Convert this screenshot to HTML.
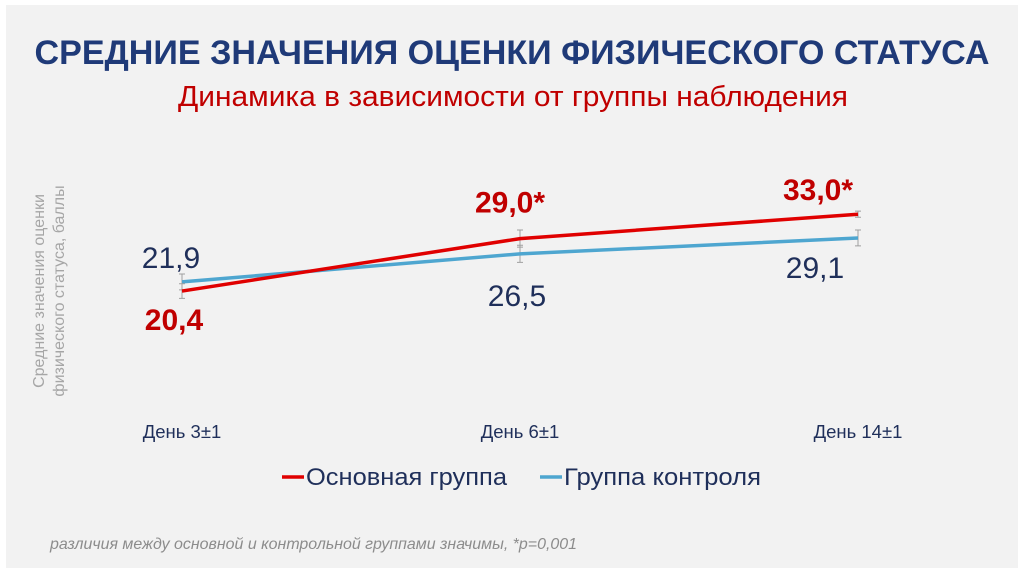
<!DOCTYPE html>
<html><head><meta charset="utf-8"><style>
body{margin:0;width:1024px;height:574px;background:#fff;overflow:hidden;font-family:"Liberation Sans",sans-serif}
#card{position:absolute;left:6px;top:5px;width:1012px;height:563px;background:#f2f2f2}
</style></head><body>
<div id="card"></div>
<svg id="c" width="1024" height="574" style="position:absolute;left:0;top:0">
<text x="512" y="64" text-anchor="middle" font-size="34" font-weight="bold" fill="#1f3a78" textLength="955" lengthAdjust="spacingAndGlyphs">СРЕДНИЕ ЗНАЧЕНИЯ ОЦЕНКИ ФИЗИЧЕСКОГО СТАТУСА</text>
<text x="513" y="106" text-anchor="middle" font-size="29" fill="#c00000" textLength="670" lengthAdjust="spacingAndGlyphs">Динамика в зависимости от группы наблюдения</text>
<text transform="translate(44,291) rotate(-90)" text-anchor="middle" font-size="16" fill="#a6a6a6"><tspan x="0" y="0">Средние значения оценки</tspan><tspan x="0" y="20">физического статуса, баллы</tspan></text>
<g id="marks"></g>
<line x1="282" y1="477" x2="304" y2="477" stroke="#e00000" stroke-width="3.5"/>
<text x="306" y="485" font-size="24" fill="#1f2f5a" textLength="201" lengthAdjust="spacingAndGlyphs">Основная группа</text>
<line x1="540" y1="477" x2="562" y2="477" stroke="#4ea6d0" stroke-width="3.5"/>
<text x="564" y="485" font-size="24" fill="#1f2f5a" textLength="197" lengthAdjust="spacingAndGlyphs">Группа контроля</text>
<text x="50" y="549" font-size="16" font-style="italic" fill="#8c8c8c" textLength="527" lengthAdjust="spacingAndGlyphs">различия между основной и контрольной группами значимы, *p=0,001</text>
</svg>
<script>
const categories=["День 3±1","День 6±1","День 14±1"];
const mainValues=[20.4,29.0,33.0];
const controlValues=[21.9,26.5,29.1];
const mainLabels=["20,4","29,0*","33,0*"];
const controlLabels=["21,9","26,5","29,1"];
const mainErr=[1.2,1.4,0.5];
const controlErr=[1.3,1.4,1.3];
const NS="http://www.w3.org/2000/svg";
const g=document.getElementById('marks');
function xs(i){return 182+i*338;}
function ys(v){return 415.5-6.1*v;}
function mk(t,a){const e=document.createElementNS(NS,t);for(const k in a)e.setAttribute(k,a[k]);g.appendChild(e);return e;}
categories.forEach((c,i)=>{
  const t=mk('text',{x:xs(i),y:438,'text-anchor':'middle','font-size':18.5,fill:'#1f2f5a'});
  t.textContent=c;
  
  
});
function series(vals,errs,color,name){
  vals.forEach((v,i)=>{
    const x=xs(i),e=errs[i]*6.1;
    const b=mk('path',{d:`M${x},${ys(v)-e}V${ys(v)+e}M${x-3},${ys(v)-e}h6M${x-3},${ys(v)+e}h6`,stroke:'#a0a0a0','stroke-width':1,fill:'none'});
    
    
  });
  const l=mk('polyline',{points:vals.map((v,i)=>xs(i)+','+ys(v)).join(' '),stroke:color,'stroke-width':3.5,fill:'none'});
  
  
}
series(controlValues,controlErr,'#4ea6d0','control');
series(mainValues,mainErr,'#e00000','main');
const mOff=[[-8,39],[-10,-26],[-40,-14]];
mainValues.forEach((v,i)=>{
  const t=mk('text',{x:xs(i)+mOff[i][0],y:ys(v)+mOff[i][1],'text-anchor':'middle','font-size':30,'font-weight':'bold',fill:'#c00000'});
  t.textContent=mainLabels[i];
  
  
});
const cOff=[[-11,-14],[-3,52],[-43,40]];
controlValues.forEach((v,i)=>{
  const t=mk('text',{x:xs(i)+cOff[i][0],y:ys(v)+cOff[i][1],'text-anchor':'middle','font-size':30,fill:'#1f2f5a'});
  t.textContent=controlLabels[i];
  
  
});
</script>
</body></html>
